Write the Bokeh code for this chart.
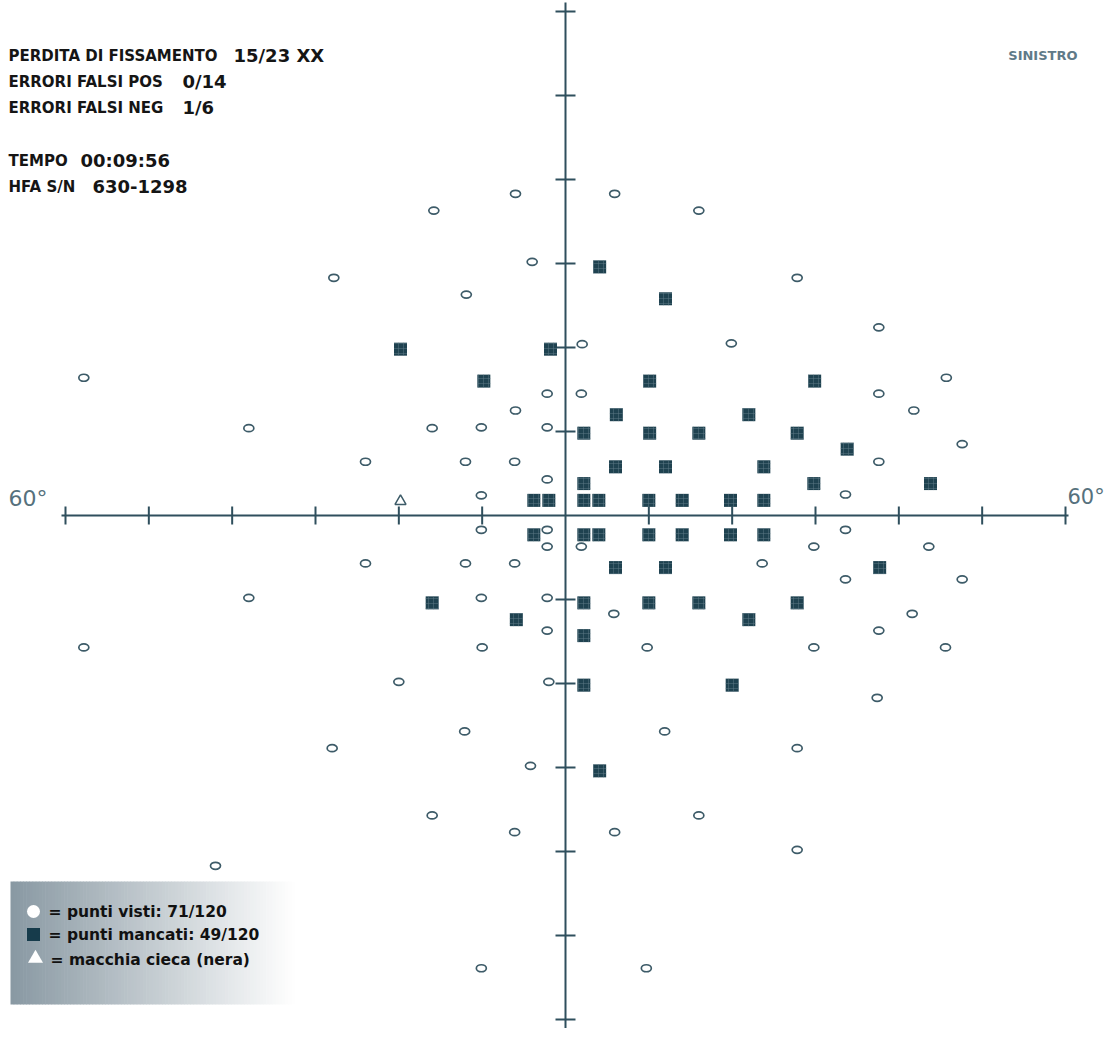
import numpy as np
from bokeh.plotting import figure
from bokeh.models import Range1d, Label
from bokeh.embed import file_html
from bokeh.resources import INLINE

# ---------------- data (degrees of visual field) ----------------
seen_x = [-6.0, 5.9, -15.8, 16.0, -4.0, -27.8, 27.8, -11.9, 37.6, 2.0,
          19.9, -57.8, 45.7, -2.2, 1.9, 37.6, -6.0, 41.8, -38.0, -16.0,
          -10.1, -2.2, 47.6, -24.0, -12.0, -6.1, 37.6, -2.2, -10.1, 33.6,
          -10.1, -2.2, 33.6, -2.2, 1.9, 29.8, 43.6, -24.0, -12.0, -6.1,
          23.6, 33.6, 47.6, -38.0, -10.1, -2.2, 5.8, 41.6, -2.2, 37.6,
          -57.8, -10.0, 9.8, 29.8, 45.6, -20.0, -2.0, 37.4, -12.1, 11.9,
          -28.0, 27.8, -4.2, -16.0, 16.0, -6.1, 5.9, 27.8, -42.0, -10.1,
          9.7]
seen_y = [38.3, 38.3, 36.3, 36.3, 30.2, 28.3, 28.3, 26.3, 22.4, 20.4,
          20.5, 16.4, 16.4, 14.5, 14.5, 14.5, 12.5, 12.5, 10.4, 10.4,
          10.5, 10.5, 8.5, 6.4, 6.4, 6.4, 6.4, 4.3, 2.4, 2.5,
          -1.7, -1.7, -1.7, -3.7, -3.7, -3.7, -3.7, -5.7, -5.7, -5.7,
          -5.7, -7.6, -7.6, -9.8, -9.8, -9.8, -11.7, -11.7, -13.7, -13.7,
          -15.7, -15.7, -15.7, -15.7, -15.7, -19.8, -19.8, -21.7, -25.7, -25.7,
          -27.7, -27.7, -29.8, -35.7, -35.7, -37.7, -37.7, -39.8, -41.7, -53.9,
          -53.9]

missed_x = [4.1, 12.0, -19.8, -1.8, -9.8, 10.1, 29.9, 6.1, 22.0, 2.2,
            10.1, 16.0, 27.8, 33.8, 6.0, 12.0, 23.8, 2.2, 29.8, 43.8,
            -3.8, -2.0, 2.2, 4.0, 10.0, 14.0, 19.8, 23.8, -3.8, 2.2,
            4.0, 10.0, 14.0, 19.8, 23.8, 6.0, 12.0, 37.7, -16.0, 2.2,
            10.0, 16.0, 27.8, -5.9, 22.0, 2.2, 2.2, 20.0, 4.1]
missed_y = [29.6, 25.8, 19.8, 19.8, 16.0, 16.0, 16.0, 12.0, 12.0, 9.8,
            9.8, 9.8, 9.8, 7.9, 5.8, 5.8, 5.8, 3.8, 3.8, 3.8,
            1.8, 1.8, 1.8, 1.8, 1.8, 1.8, 1.8, 1.8, -2.3, -2.3,
            -2.3, -2.3, -2.3, -2.3, -2.3, -6.2, -6.2, -6.2, -10.4, -10.4,
            -10.4, -10.4, -10.4, -12.4, -12.4, -14.3, -20.2, -20.2, -30.4]

blind_x = [-19.8]
blind_y = [1.7]

tick_values = [-60, -50, -40, -30, -20, -10, 10, 20, 30, 40, 50, 60]
axis_end_label = "60\u00b0"

header_labels = ["PERDITA DI FISSAMENTO", "ERRORI FALSI POS", "ERRORI FALSI NEG",
                 "TEMPO", "HFA S/N"]
header_values = ["15/23 XX", "0/14", "1/6", "00:09:56", "630-1298"]
eye_label = "SINISTRO"
legend_labels = ["= punti visti: 71/120", "= punti mancati: 49/120",
                 "= macchia cieca (nera)"]

# ---------------- layout / style ----------------
W, H = 1104, 1028          # canvas
SX, SY = 250 / 30, 8.4     # px per degree
CX, CY = 565, 515          # canvas pixel of the origin


def xd(px):
    return (np.asarray(px, dtype=float) - CX) / SX


def yd(py):
    return (CY - np.asarray(py, dtype=float)) / SY


def sx(px):  # canvas px -> screen x
    return px


def sy(py):  # canvas px (from top) -> screen y (from bottom)
    return H - py


AX = "#2f4f5d"
DARK = "#1f4250"
FONT = "DejaVu Sans"

p = figure(width=W, height=H,
           x_range=Range1d(float(xd(0)), float(xd(W))),
           y_range=Range1d(float(yd(H)), float(yd(0))),
           output_backend="svg", toolbar_location=None,
           x_axis_type=None, y_axis_type=None, min_border=0)
p.outline_line_color = None
p.background_fill_color = "white"
p.border_fill_color = "white"

# legend background gradient
n = 90
edges = np.linspace(10, 294, n + 1)
c0 = np.array([0x88, 0x98, 0xa2], dtype=float)
c1 = np.array([255, 255, 255], dtype=float)
ts = (np.arange(n) + 0.5) / n
cols = ["#%02x%02x%02x" % tuple(int(round(v)) for v in (c0 + (c1 - c0) * t)) for t in ts]
p.quad(left=xd(edges[:-1]), right=xd(edges[1:] + 0.6),
       top=[float(yd(881))] * n, bottom=[float(yd(1004))] * n,
       fill_color=cols, line_color=None)

# axes cross
p.segment(x0=[float(xd(61))], y0=[0], x1=[float(xd(1068))], y1=[0],
          line_color=AX, line_width=2)
p.segment(x0=[0], y0=[float(yd(2))], x1=[0], y1=[float(yd(H))],
          line_color=AX, line_width=2)
nt = len(tick_values)
hv = 9 / SY
hh = 10 / SX
p.segment(x0=tick_values, y0=[-hv] * nt, x1=tick_values, y1=[hv] * nt,
          line_color=AX, line_width=2)
p.segment(x0=[-hh] * nt, y0=tick_values, x1=[hh] * nt, y1=tick_values,
          line_color=AX, line_width=2)

# points
p.ellipse(x=seen_x, y=seen_y, width=10, height=7,
          width_units="screen", height_units="screen",
          fill_color="white", line_color="#3d5b68", line_width=1.7)
p.scatter(x=missed_x, y=missed_y, marker="square", size=13,
          fill_color=DARK, line_color=None,
          hatch_pattern="+", hatch_color="#5f7a86", hatch_scale=5,
          hatch_weight=0.8, hatch_alpha=0.6)
p.scatter(x=blind_x, y=blind_y, marker="triangle", size=11,
          fill_color="white", line_color="#3d5b68", line_width=1.5)

# end labels
p.add_layout(Label(x=sx(8), y=sy(498), x_units="screen", y_units="screen",
                   text=axis_end_label, text_font=FONT, text_font_size="22px",
                   text_color="#56717d", text_baseline="middle", text_align="left"))
p.add_layout(Label(x=sx(1067), y=sy(496), x_units="screen", y_units="screen",
                   text=axis_end_label, text_font=FONT, text_font_size="21px",
                   text_color="#56717d", text_baseline="middle", text_align="left"))

# header texts
baselines = [55, 81, 107, 160, 186]
value_x = [233, 182, 182, 80, 92]
for lab, val, b, vx in zip(header_labels, header_values, baselines, value_x):
    p.add_layout(Label(x=sx(8), y=sy(b), x_units="screen", y_units="screen",
                       text=lab, text_font=FONT, text_font_style="bold",
                       text_font_size="15px", text_color="#151515",
                       text_baseline="alphabetic"))
    p.add_layout(Label(x=sx(vx), y=sy(b), x_units="screen", y_units="screen",
                       text=val, text_font=FONT, text_font_style="bold",
                       text_font_size="18px", text_color="#151515",
                       text_baseline="alphabetic"))

p.add_layout(Label(x=sx(1077), y=sy(55), x_units="screen", y_units="screen",
                   text=eye_label, text_font=FONT, text_font_style="bold",
                   text_font_size="13px", text_color="#5f7a88",
                   text_baseline="middle", text_align="right"))

# legend
p.scatter(x=[float(xd(33))], y=[float(yd(911))], marker="circle", size=13,
          fill_color="white", line_color=None)
p.scatter(x=[float(xd(33))], y=[float(yd(934))], marker="square", size=13,
          fill_color="#163b4b", line_color=None)
p.scatter(x=[float(xd(35))], y=[float(yd(958))], marker="triangle", size=15,
          fill_color="white", line_color=None)
for lab, cy, lx in zip(legend_labels, [911, 934, 959], [48, 48, 50]):
    p.add_layout(Label(x=sx(lx), y=sy(cy), x_units="screen", y_units="screen",
                       text=lab, text_font=FONT, text_font_style="bold",
                       text_font_size="15.5px", text_color="#111111",
                       text_baseline="middle"))

open("out.html", "w").write(file_html(p, INLINE))
